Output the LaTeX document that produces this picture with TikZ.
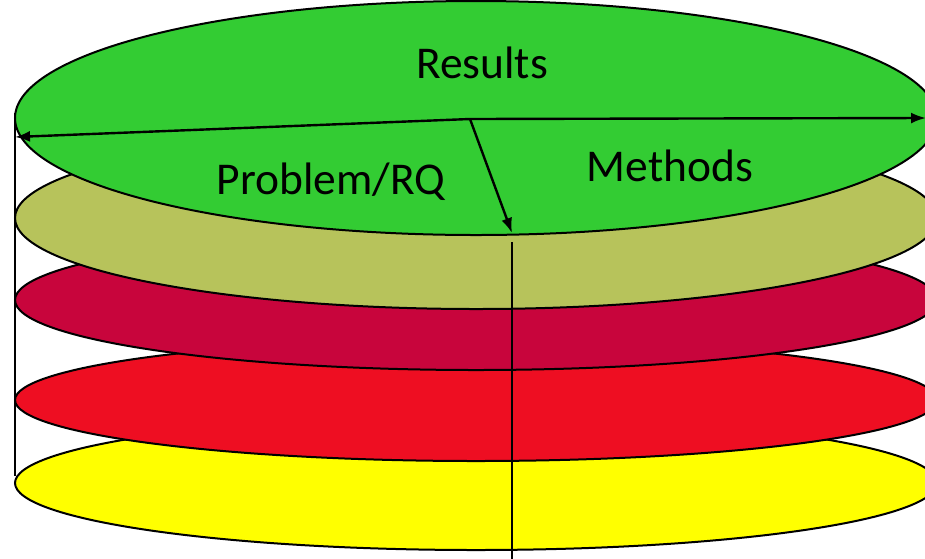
\documentclass[tikz,border=0pt]{standalone}
\usepackage{xcolor}
\usepackage{fontspec}
\setmainfont{Carlito}
\usepackage{tikz}
\usetikzlibrary{shapes.geometric, arrows.meta, positioning}
\definecolor{resgreen}{RGB}{51,204,51}
\definecolor{olivelayer}{RGB}{183,195,91}
\definecolor{crimsonlayer}{RGB}{200,5,60}
\definecolor{redlayer}{RGB}{238,14,34}
\definecolor{yellowlayer}{RGB}{255,255,0}
\tikzstyle{layer} = [ellipse, draw=black, line width=2pt, minimum width=922pt, inner sep=0pt, outer sep=0pt]
\tikzstyle{arrow} = [line width=2.4pt,-{Latex[length=15pt,width=11pt]}]
\tikzstyle{axis} = [line width=2pt]
\tikzstyle{layertext} = [font=\fontsize{45.5}{54}\selectfont, anchor=base, inner sep=0pt]

\begin{document}
\begin{tikzpicture}[x=1pt, y=-1pt]
    \useasboundingbox (0,0) rectangle (925,558);

    % Schichten
    \node (yellow) [layer, fill=yellowlayer, minimum height=134pt] at (476,483) {};
    \node (red) [layer, fill=redlayer, minimum height=122pt] at (476,400) {};
    \node (crimson) [layer, fill=crimsonlayer, minimum height=140pt] at (476,300) {};
    \node (olive) [layer, fill=olivelayer, minimum height=182pt] at (476,218) {};
    \node (results) [layer, fill=resgreen, minimum height=234pt] at (476,118) {};

    % Achsen
    \coordinate (ltop) at (15,113);
    \coordinate (lbot) at (15,476);
    \coordinate (ctop) at (512,242);
    \coordinate (cbot) at (512,560);
    \draw [axis] (ltop) -- (lbot);
    \draw [axis] (ctop) -- (cbot);

    % Texte
    \node (restext) [layertext] at (482,78) {Results};
    \node (probtext) [layertext] at (331,194) {Problem/RQ};
    \node (methtext) [layertext] at (670,181) {Methods};

    % Pfeile
    \coordinate (hub) at (470,119);
    \coordinate (west) at (15,137);
    \coordinate (east) at (926,118);
    \coordinate (south) at (512,233);
    \draw [arrow] (hub) -- (west);
    \draw [arrow] (hub) -- (east);
    \draw [arrow] (hub) -- (south);
\end{tikzpicture}
\end{document}
